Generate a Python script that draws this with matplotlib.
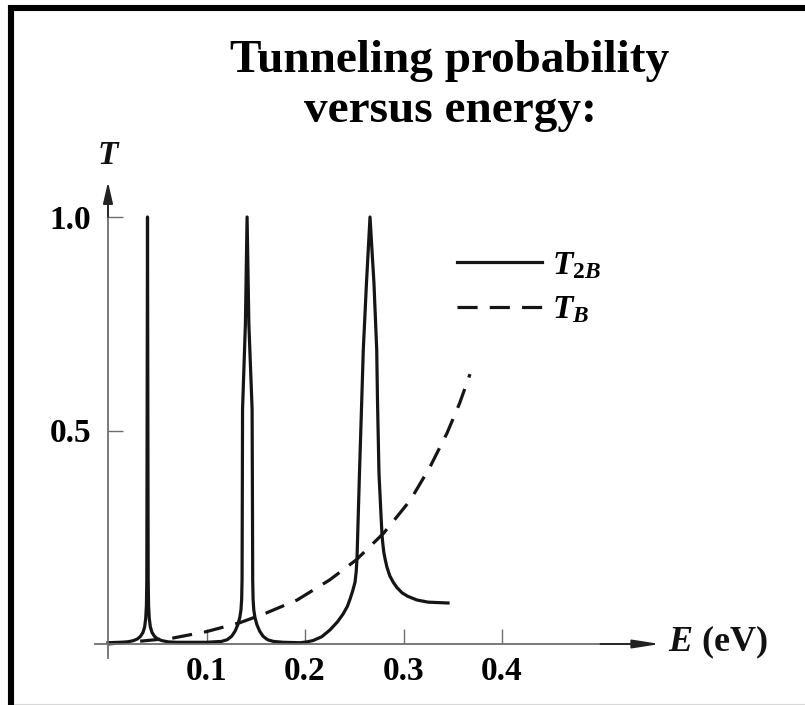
import matplotlib
matplotlib.use("Agg")
import matplotlib.pyplot as plt
from matplotlib.lines import Line2D

# ---------------- data ----------------
e_t2b = [0.000, 0.012, 0.020, 0.026, 0.030, 0.033, 0.0355, 0.0372, 0.0383, 0.0390,
         0.0394, 0.0397, 0.0401, 0.0405, 0.0408, 0.0412, 0.0419, 0.0430, 0.0447, 0.0472,
         0.0502, 0.0546, 0.0610, 0.0700, 0.1000, 0.1150, 0.1210, 0.1255, 0.1290, 0.1318,
         0.1338, 0.1350, 0.1357, 0.1361, 0.1363, 0.1366, 0.1395, 0.1412, 0.1430, 0.1463,
         0.1467, 0.1469, 0.1473, 0.1480, 0.1492, 0.1512, 0.1540, 0.1575, 0.1620, 0.1680,
         0.1780, 0.1950, 0.2020, 0.2081, 0.2170, 0.2254, 0.2330, 0.2386, 0.2430, 0.2457,
         0.2485, 0.2508, 0.2520, 0.2528, 0.2538, 0.2553, 0.2576, 0.2592, 0.2624, 0.2660,
         0.2700, 0.2728, 0.2736, 0.2751, 0.2772, 0.2782, 0.2790, 0.2800, 0.2815, 0.2832,
         0.2860, 0.2895, 0.2934, 0.2985, 0.3040, 0.3137, 0.3250, 0.3452]
t_t2b = [0.003, 0.004, 0.005, 0.008, 0.012, 0.018, 0.027, 0.040, 0.060, 0.090,
         0.150, 0.500, 1.000, 0.500, 0.150, 0.090, 0.060, 0.040, 0.027, 0.018,
         0.012, 0.008, 0.005, 0.004, 0.004, 0.006, 0.010, 0.018, 0.030, 0.045,
         0.062, 0.080, 0.105, 0.150, 0.300, 0.550, 0.750, 1.000, 0.750, 0.550,
         0.300, 0.150, 0.105, 0.080, 0.062, 0.045, 0.030, 0.018, 0.010, 0.006,
         0.004, 0.003, 0.005, 0.008, 0.017, 0.033, 0.052, 0.070, 0.088, 0.105,
         0.125, 0.145, 0.170, 0.200, 0.280, 0.400, 0.570, 0.690, 0.845, 1.000,
         0.845, 0.690, 0.570, 0.400, 0.300, 0.255, 0.235, 0.215, 0.197, 0.180,
         0.160, 0.145, 0.132, 0.120, 0.112, 0.103, 0.098, 0.096]

e_tb = [0.000, 0.030, 0.066, 0.100, 0.134, 0.160, 0.192, 0.225, 0.252, 0.280,
        0.307, 0.327, 0.344, 0.357, 0.3675]
t_tb = [0.000, 0.006, 0.014, 0.029, 0.050, 0.072, 0.103, 0.150, 0.197, 0.260,
        0.337, 0.415, 0.493, 0.564, 0.632]

xtick_values = [0.1, 0.2, 0.3, 0.4]
xtick_labels = ["0.1", "0.2", "0.3", "0.4"]
ytick_values = [0.5, 1.0]
ytick_labels = ["0.5", "1.0"]

title_lines = ["Tunneling probability", "versus energy:"]
legend_labels = [r"$T_{\mathit{2B}}$", r"$T_{\mathit{B}}$"]

# ---------------- style ----------------
plt.rcParams["font.family"] = ["Liberation Serif", "DejaVu Serif"]
plt.rcParams["font.weight"] = "bold"
plt.rcParams["mathtext.fontset"] = "custom"
plt.rcParams["mathtext.it"] = "Liberation Serif:italic:bold"
plt.rcParams["mathtext.rm"] = "Liberation Serif:bold"
plt.rcParams["mathtext.bf"] = "Liberation Serif:bold"

W, H = 805, 705
fig = plt.figure(figsize=(W / 100, H / 100), dpi=100)
ax = fig.add_axes([0, 0, 1, 1])

# pixel mapping: E=0 -> x=108 px, 985 px per eV; T=0 -> 644 px from top, 427 px per unit
x0_px, sx = 108, 985.0
y0_px, sy = 644, 427.0
ax.set_xlim(-x0_px / sx, (W - x0_px) / sx)
ax.set_ylim(-(H - y0_px) / sy, y0_px / sy)
ax.patch.set_visible(False)

axis_col = "#6e6e6e"
for side in ["top", "right"]:
    ax.spines[side].set_visible(False)
ax.spines["left"].set_position(("data", 0))
ax.spines["bottom"].set_position(("data", 0))
ax.spines["left"].set_bounds(-0.033, 1.06)
ax.spines["bottom"].set_bounds(-0.013, 0.54)
for side in ["left", "bottom"]:
    ax.spines[side].set_color(axis_col)
    ax.spines[side].set_linewidth(1.3)

ax.set_xticks(xtick_values)
ax.set_xticklabels(xtick_labels)
ax.set_yticks(ytick_values)
ax.set_yticklabels(ytick_labels)
ax.tick_params(axis="both", direction="in", length=10.8, width=1.0, color=axis_col,
               labelsize=24, labelcolor="black")
ax.tick_params(axis="x", pad=9)
ax.tick_params(axis="y", pad=12)
for lab in ax.get_xticklabels() + ax.get_yticklabels():
    lab.set_fontweight("bold")

# axis arrows
ax.annotate("", xy=(0, 1.082), xytext=(0, 1.0),
            arrowprops=dict(arrowstyle="-|>,head_length=1.3,head_width=0.3",
                            mutation_scale=10, color="#222222", lw=1.3,
                            shrinkA=0, shrinkB=0))
ax.annotate("", xy=(0.5604, 0), xytext=(0.50, 0),
            arrowprops=dict(arrowstyle="-|>,head_length=1.65,head_width=0.26",
                            mutation_scale=10, color="#222222", lw=1.3,
                            shrinkA=0, shrinkB=0))

# curves
lw = 2.3
ax.plot(e_t2b, t_t2b, color="#151515", lw=lw, solid_joinstyle="round",
        label=legend_labels[0])
ax.plot(e_tb, t_tb, color="#151515", lw=lw, linestyle=(0, (6.3, 3.8)),
        dash_capstyle="butt", label=legend_labels[1])

# axis labels
ax.text(0, 1.143, "T", ha="center", va="center", fontsize=24,
        fontweight="bold", fontstyle="italic", color="#111111")
ax.text(0.5685, 0.003, r"$E$ (eV)", ha="left", va="center", fontsize=26,
        fontweight="bold", color="#111111")

# legend
leg = ax.legend(loc="upper left", bbox_to_anchor=(457 / W, 1 - 250 / H),
                bbox_transform=fig.transFigure, frameon=False, fontsize=24,
                handlelength=2.55, handletextpad=0.3, labelspacing=0.4,
                borderpad=0, borderaxespad=0)

# title
fig.text(450 / W, 1 - 72 / H, title_lines[0], ha="center", va="baseline",
         fontsize=34, fontweight="bold")
fig.text(450 / W, 1 - 122 / H, title_lines[1], ha="center", va="baseline",
         fontsize=34, fontweight="bold")

# frame lines (top and left), faint bottom edge
fig.add_artist(Line2D([8 / W, 1], [1 - 8 / H, 1 - 8 / H], transform=fig.transFigure,
                      color="black", lw=4.4, solid_capstyle="butt"))
fig.add_artist(Line2D([11 / W, 11 / W], [0, 1 - 5 / H], transform=fig.transFigure,
                      color="black", lw=4.4, solid_capstyle="butt"))
fig.add_artist(Line2D([14 / W, 1], [1.5 / H, 1.5 / H], transform=fig.transFigure,
                      color="#d8d8d8", lw=0.8))

fig.savefig("out.png", dpi=100, facecolor="white")
